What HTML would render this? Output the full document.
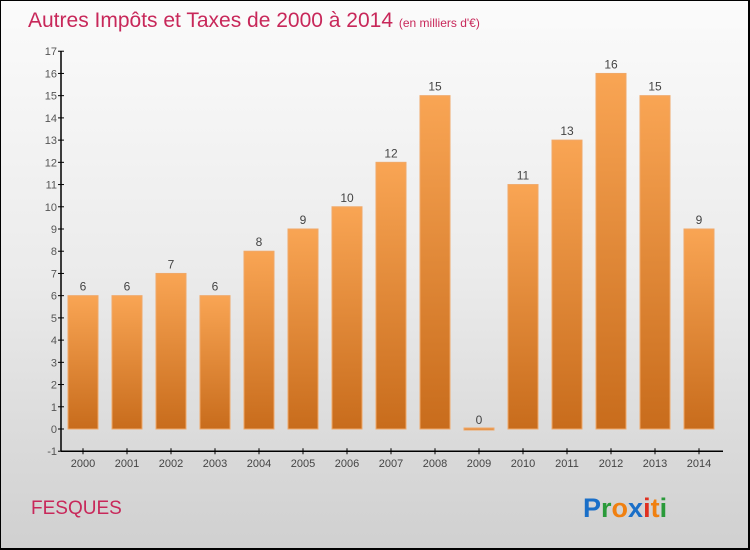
<!DOCTYPE html>
<html><head><meta charset="utf-8"><style>
body{margin:0}
#c{width:750px;height:550px;position:relative;box-sizing:border-box;border:1px solid #000;border-right-width:2px;border-bottom-width:2px;background:linear-gradient(#fbfbfb 0%,#ebebeb 50%,#d0d0d0 100%);font-family:"Liberation Sans",sans-serif;overflow:hidden}
</style></head><body>
<div id="c">
<svg width="750" height="550" style="position:absolute;left:0;top:0" id="svg">
<defs><linearGradient id="bg" x1="0" y1="0" x2="0" y2="1"><stop offset="0" stop-color="#f9a554"/><stop offset="1" stop-color="#c86c1c"/></linearGradient></defs>
<text x="27" y="26" font-size="21" fill="#c8285a">Autres Impôts et Taxes de 2000 à 2014 <tspan font-size="12">(en milliers d'€)</tspan></text>
<text x="30" y="513" font-size="19" fill="#c8285a">FESQUES</text>
<text x="582" y="516" font-size="27" font-weight="bold"><tspan fill="#1a6fc8">P</tspan><tspan fill="#2a9a3a">r</tspan><tspan fill="#f08010">o</tspan><tspan fill="#1a6fc8">x</tspan><tspan fill="#e03020">i</tspan><tspan fill="#f08010">t</tspan><tspan fill="#2a9a3a">i</tspan></text>
<g id="g"></g>
</svg>
</div>
<script>
const years=["2000","2001","2002","2003","2004","2005","2006","2007","2008","2009","2010","2011","2012","2013","2014"];
const values=[6,6,7,6,8,9,10,12,15,0,11,13,16,15,9];
const yTicks=[-1,0,1,2,3,4,5,6,7,8,9,10,11,12,13,14,15,16,17];
const NS="http://www.w3.org/2000/svg";
const g=document.getElementById('g');
const y=v=>428-(v)*(400/18);
const x=i=>82+i*44;
function mk(t,a){const e=document.createElementNS(NS,t);for(const k in a)e.setAttribute(k,a[k]);g.appendChild(e);return e;}
let ax=mk('line',{x1:60,y1:y(17),x2:60,y2:y(-1),stroke:'#000','stroke-width':1.5});


let bx=mk('line',{x1:60,y1:y(-1),x2:722,y2:y(-1),stroke:'#000','stroke-width':1.5});


yTicks.forEach(t=>{
 let l=mk('line',{x1:57,x2:63,y1:y(t),y2:y(t),stroke:'#000'});
 
 
 let tx=mk('text',{x:56,y:y(t)+4,'font-size':11,fill:'#555','text-anchor':'end'});
 tx.textContent=t;
 
 
});
years.forEach((yr,i)=>{
 const v=values[i];
 let r=mk('rect',{x:x(i)-15,width:30,y:v>0?y(v):y(0)-1,height:v>0?y(0)-y(v):2,fill:'url(#bg)',stroke:'#f0a868','stroke-width':1});
 
 
 let vl=mk('text',{x:x(i),y:y(v)-5,'font-size':12,fill:'#444','text-anchor':'middle'});
 vl.textContent=v;
 
 
 let tk=mk('line',{x1:x(i),x2:x(i),y1:y(-1)-3,y2:y(-1)+3,stroke:'#000'});
 
 
 let xl=mk('text',{x:x(i),y:y(-1)+16,'font-size':11,fill:'#444','text-anchor':'middle'});
 xl.textContent=yr;
 
 
});
</script>
</body></html>
